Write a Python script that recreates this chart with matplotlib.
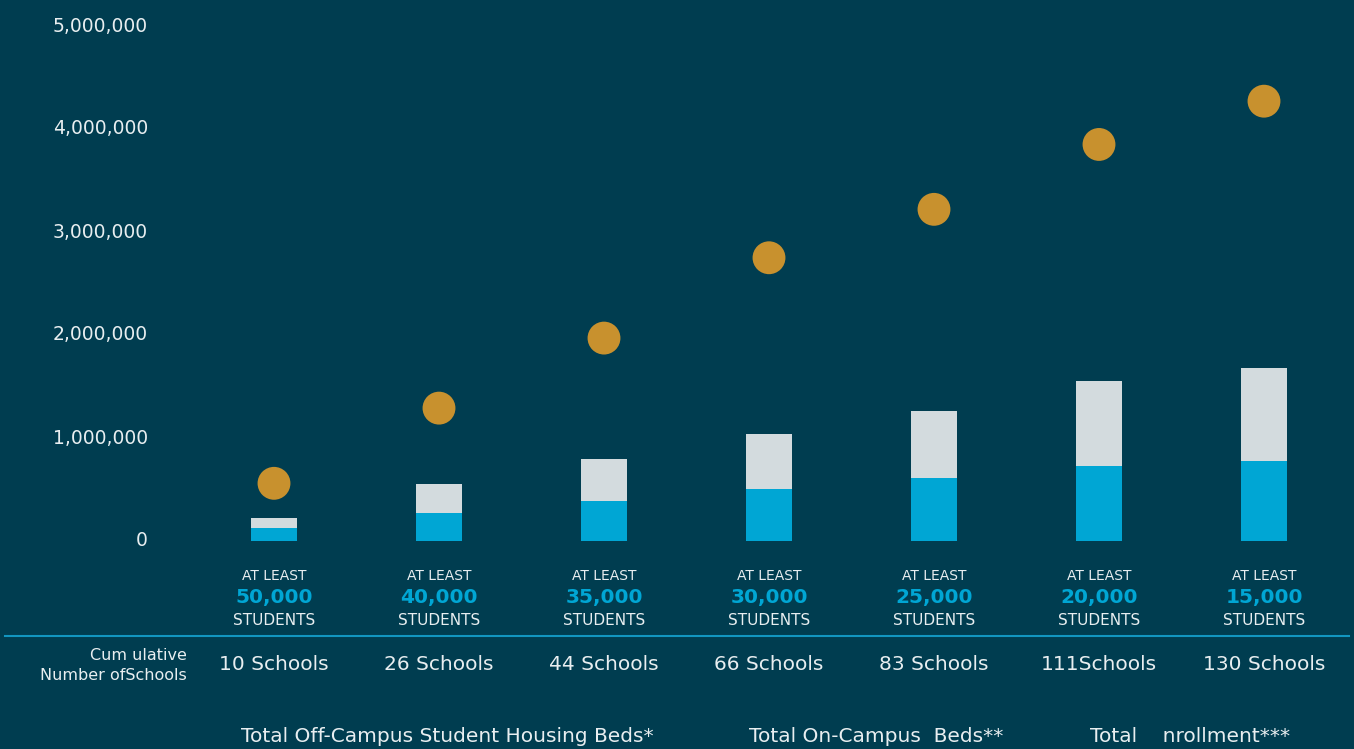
import matplotlib.pyplot as plt
import matplotlib.transforms as mtransforms

# data
min_students = ['50,000', '40,000', '35,000', '30,000', '25,000', '20,000', '15,000']
school_counts = ['10 Schools', '26 Schools', '44 Schools', '66 Schools', '83 Schools', '111Schools', '130 Schools']
off_campus_beds = [125000, 270000, 390000, 505000, 615000, 730000, 780000]
on_campus_beds = [95000, 280000, 410000, 535000, 650000, 820000, 900000]
total_enrollment = [560000, 1290000, 1970000, 2750000, 3220000, 3850000, 4270000]
y_ticks = [0, 1000000, 2000000, 3000000, 4000000, 5000000]
legend_labels = ['Total Off-Campus Student Housing Beds*', 'Total On-Campus  Beds**', 'Total    nrollment***']

bg = '#003D50'
blue = '#00A6D4'
grey = '#D3DBDE'
gold = '#C8912E'
txt = '#E8EEF0'

W, H = 1354, 749
fig = plt.figure(figsize=(W / 100, H / 100), dpi=100, facecolor=bg)
ax = fig.add_axes([0, 0, 1, 1], facecolor=bg)

# map pixels: bar i centre at x=274+165*i, value 0 at y=541, 103 px per million
ax.set_xlim((0 - 274) / 165, (W - 274) / 165)
ax.set_ylim((541 - H) / 103 * 1e6, 541 / 103 * 1e6)
ax.axis('off')

x = list(range(len(min_students)))
ax.bar(x, off_campus_beds, width=0.28, color=blue, zorder=2)
ax.bar(x, on_campus_beds, width=0.28, bottom=off_campus_beds, color=grey, zorder=2)
ax.scatter(x, total_enrollment, s=560, color=gold, edgecolors='none', zorder=3)

# y tick labels
ytrans = mtransforms.blended_transform_factory(fig.transFigure, ax.transData)
for v in y_ticks:
    ax.text(148 / W, v, f'{v:,}', transform=ytrans, ha='right', va='center', color=txt, fontsize=13.5)

# category labels
trans = mtransforms.blended_transform_factory(ax.transData, fig.transFigure)
fy = lambda py: 1 - py / H
for i in x:
    ax.text(i, fy(580.5), 'AT LEAST', transform=trans, ha='center', va='baseline', color=txt, fontsize=10)
    ax.text(i, fy(602.5), min_students[i], transform=trans, ha='center', va='baseline', color=blue,
            fontsize=14.5, fontweight='bold')
    ax.text(i, fy(625), 'STUDENTS', transform=trans, ha='center', va='baseline', color=txt, fontsize=11)
    ax.text(i, fy(665), school_counts[i], transform=trans, ha='center', va='center', color=txt, fontsize=14.5)

# separator line
fig.add_artist(plt.Line2D([5 / W, 1349 / W], [fy(636), fy(636)], color='#1296C0', lw=1.5,
                          transform=fig.transFigure))

fig.text(187 / W, fy(655), 'Cum ulative', ha='right', va='center', color=txt, fontsize=11.5)
fig.text(187 / W, fy(676), 'Number ofSchools', ha='right', va='center', color=txt, fontsize=11.5)

# legend (text only)
for label, cx in zip(legend_labels, [447, 876, 1190]):
    fig.text(cx / W, fy(737), label, ha='center', va='center', color=txt, fontsize=14.5)

fig.savefig('out.png', dpi=100, facecolor=bg)
